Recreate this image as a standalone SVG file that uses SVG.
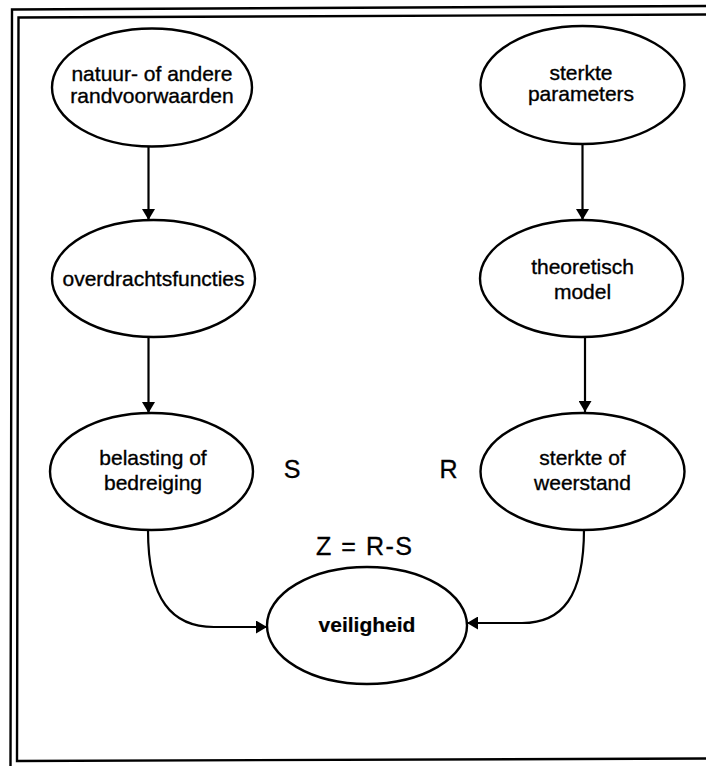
<svg xmlns="http://www.w3.org/2000/svg" width="706" height="766" viewBox="0 0 706 766">
  <defs>
    <marker id="arrow" viewBox="0 0 11 13" refX="11" refY="6.5" markerWidth="11" markerHeight="13" markerUnits="userSpaceOnUse" orient="auto">
      <path d="M0,0 L11,6.5 L0,13 Z" fill="#000"/>
    </marker>
  </defs>
  <style>
    .frame { stroke: #000; stroke-width: 2.4; fill: none; }
    .node ellipse { fill: #fff; stroke: #000; stroke-width: 2.4; }
    .node text { font-family: "Liberation Sans", Arial, sans-serif; font-size: 21px; fill: #000; stroke: #000; stroke-width: 0.35; text-anchor: middle; }
    .node text.bold { font-weight: bold; stroke-width: 0.2; }
    .edge { fill: none; stroke: #000; stroke-width: 2.2; marker-end: url(#arrow); }
    .label { font-family: "Liberation Sans", Arial, sans-serif; font-size: 25px; fill: #000; stroke: #000; stroke-width: 0.35; text-anchor: middle; }
  </style>

  <rect width="706" height="766" fill="#fff"/>

  <!-- double border, open on the right -->
  <g id="frame">
    <polyline class="frame" points="706,6 12,9.5 10.5,766"/>
    <polyline class="frame" points="706,14.5 18.5,17.5 17,761 706,758.5"/>
  </g>

  <g id="connectors">
    <line class="edge" x1="148.5" y1="147" x2="148.5" y2="220"/>
    <line class="edge" x1="148.5" y1="338" x2="148.5" y2="413"/>
    <line class="edge" x1="582.5" y1="144" x2="582.5" y2="220"/>
    <line class="edge" x1="585" y1="337" x2="585" y2="412"/>
    <path class="edge" d="M148,530 C148,600 172,627 214,627 L267,627"/>
    <path class="edge" d="M584,529 C584,597 562,623 522,623 L467,623"/>
  </g>

  <g id="node-natuur" class="node">
    <ellipse cx="152" cy="87.5" rx="100" ry="59"/>
    <text x="152" y="81">natuur- of andere</text>
    <text x="152" y="103">randvoorwaarden</text>
  </g>

  <g id="node-overdracht" class="node">
    <ellipse cx="153.5" cy="278.5" rx="101.5" ry="58.5"/>
    <text x="153.5" y="286">overdrachtsfuncties</text>
  </g>

  <g id="node-belasting" class="node">
    <ellipse cx="151.5" cy="471.5" rx="101.5" ry="58.5"/>
    <text x="153" y="465">belasting of</text>
    <text x="153" y="490">bedreiging</text>
  </g>

  <g id="node-sterkte-parameters" class="node">
    <ellipse cx="582.5" cy="85" rx="102" ry="59"/>
    <text x="581" y="80">sterkte</text>
    <text x="581" y="101">parameters</text>
  </g>

  <g id="node-theoretisch" class="node">
    <ellipse cx="581.5" cy="278.5" rx="101.5" ry="58.5"/>
    <text x="582.5" y="274">theoretisch</text>
    <text x="582.5" y="299">model</text>
  </g>

  <g id="node-weerstand" class="node">
    <ellipse cx="582.5" cy="471.5" rx="102" ry="58.5"/>
    <text x="582.5" y="465">sterkte of</text>
    <text x="582.5" y="490">weerstand</text>
  </g>

  <g id="node-veiligheid" class="node">
    <ellipse cx="367" cy="625.5" rx="100" ry="58.5"/>
    <text class="bold" x="367" y="632">veiligheid</text>
  </g>

  <g id="labels">
    <text class="label" x="292" y="478">S</text>
    <text class="label" x="448.5" y="478">R</text>
    <text class="label" x="364" y="555" textLength="96" lengthAdjust="spacing">Z = R-S</text>
  </g>
</svg>
